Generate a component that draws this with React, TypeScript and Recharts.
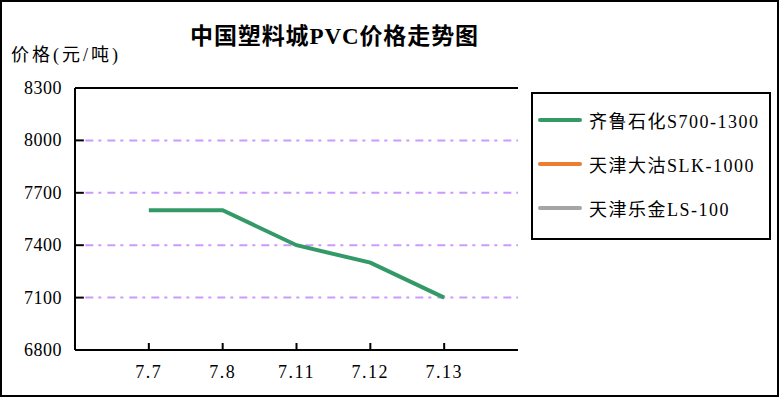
import {
  LineChart,
  Line,
  XAxis,
  YAxis,
  ReferenceLine,
  Legend,
} from "recharts";

const dates = ["7.7", "7.8", "7.11", "7.12", "7.13"];
const qilu = [7600, 7600, 7400, 7300, 7100];
const tjDagu: (number | null)[] = [null, null, null, null, null];
const tjLejin: (number | null)[] = [null, null, null, null, null];
const yTicks = [6800, 7100, 7400, 7700, 8000, 8300];
const gridValues = [7100, 7400, 7700, 8000];
const seriesNames = ["齐鲁石化S700-1300", "天津大沽SLK-1000", "天津乐金LS-100"];
const seriesColors = ["#339966", "#ED7D31", "#A5A5A5"];

const FONT = '"Liberation Serif", "Noto Sans CJK SC", serif';
const BORDER = { stroke: "#000", strokeWidth: 2 };

const data = dates.map((d, i) => ({
  pos: i + 1,
  date: d,
  s0: qilu[i],
  s1: tjDagu[i],
  s2: tjLejin[i],
}));

const YTick = (props: any) => {
  const { x, y, payload } = props;
  return (
    <text
      x={x - 13}
      y={y}
      dy={6}
      textAnchor="end"
      fontSize={18}
      letterSpacing={0.5}
      fontFamily={FONT}
      fill="#000"
    >
      {payload.value}
    </text>
  );
};

const XTick = (props: any) => {
  const { x, y, payload } = props;
  return (
    <text
      x={x}
      y={y + 28}
      textAnchor="middle"
      fontSize={18}
      letterSpacing={1.5}
      fontFamily={FONT}
      fill="#000"
    >
      {dates[payload.value - 1]}
    </text>
  );
};

const LegendBox = () => (
  <div
    style={{
      width: 240,
      height: 148,
      boxSizing: "border-box",
      border: "2px solid #000",
      background: "#fff",
      paddingTop: 4,
      paddingLeft: 5,
      fontFamily: FONT,
      fontSize: 18,
      letterSpacing: 1.5,
    }}
  >
    {seriesNames.map((name, i) => (
      <div
        key={name}
        style={{ display: "flex", alignItems: "center", height: 44 }}
      >
        <span
          style={{
            display: "inline-block",
            width: 44,
            height: 4,
            background: seriesColors[i],
            marginRight: 7,
            borderRadius: 2,
          }}
        />
        <span>{name}</span>
      </div>
    ))}
  </div>
);

export default function App() {
  return (
    <div
      style={{
        position: "absolute",
        left: 0,
        top: 0,
        width: 779,
        height: 397,
        background: "#fff",
      }}
    >
      <LineChart
        width={779}
        height={397}
        data={data}
        margin={{ top: 88, right: 261, bottom: 7, left: 15 }}
      >
        {gridValues.map((v) => (
          <ReferenceLine
            key={`g${v}`}
            segment={[
              { x: 0.14, y: v },
              { x: 6, y: v },
            ]}
            ifOverflow="visible"
            stroke="#CC99FF"
            strokeWidth={2}
            strokeDasharray="8 5 3 6"
          />
        ))}
        {/* inward tick marks on the value axis */}
        {yTicks.map((v) => (
          <ReferenceLine
            key={`yt${v}`}
            segment={[
              { x: 0, y: v },
              { x: 0.12, y: v },
            ]}
            ifOverflow="visible"
            stroke="#000"
            strokeWidth={2}
          />
        ))}
        {/* inward tick marks on the category axis */}
        {dates.map((d, i) => (
          <ReferenceLine
            key={`xt${d}`}
            segment={[
              { x: i + 1, y: 6800 },
              { x: i + 1, y: 6840 },
            ]}
            ifOverflow="visible"
            stroke="#000"
            strokeWidth={2}
          />
        ))}
        <ReferenceLine y={8300} ifOverflow="visible" stroke="#000" strokeWidth={2} />
        <XAxis
          dataKey="pos"
          type="number"
          domain={[0, 6]}
          ticks={[1, 2, 3, 4, 5]}
          interval={0}
          height={40}
          tickSize={0}
          tickMargin={0}
          axisLine={BORDER}
          tickLine={false}
          tick={<XTick />}
        />
        <YAxis
          type="number"
          domain={[6800, 8300]}
          ticks={yTicks}
          interval={0}
          width={60}
          tickSize={0}
          tickMargin={0}
          axisLine={BORDER}
          tickLine={false}
          tick={<YTick />}
        />
        <YAxis
          yAxisId="right"
          orientation="right"
          type="number"
          domain={[6800, 8300]}
          width={0}
          axisLine={BORDER}
          tickLine={false}
          tick={false}
        />
        {["s0", "s1", "s2"].map((k, i) => (
          <Line
            key={k}
            dataKey={k}
            name={seriesNames[i]}
            stroke={seriesColors[i]}
            strokeWidth={4}
            dot={false}
            activeDot={false}
            type="linear"
            isAnimationActive={false}
          />
        ))}
        <Legend
          layout="vertical"
          align="center"
          verticalAlign="middle"
          content={<LegendBox />}
          wrapperStyle={{ left: 531, top: 92, width: 240, height: 148 }}
        />
      </LineChart>
      <div
        style={{
          position: "absolute",
          left: 190,
          top: 22,
          fontFamily: FONT,
          fontSize: 23,
          fontWeight: "bold",
          letterSpacing: 0.9,
          lineHeight: "30px",
          whiteSpace: "nowrap",
        }}
      >
        中国塑料城PVC价格走势图
      </div>
      <div
        style={{
          position: "absolute",
          left: 11,
          top: 42,
          fontFamily: FONT,
          fontSize: 18,
          letterSpacing: 3,
          lineHeight: "26px",
          whiteSpace: "nowrap",
        }}
      >
        价格(元/吨)
      </div>
      <div
        style={{
          position: "absolute",
          left: 0,
          top: 0,
          width: 779,
          height: 397,
          boxSizing: "border-box",
          border: "2px solid #000",
          pointerEvents: "none",
        }}
      />
    </div>
  );
}
